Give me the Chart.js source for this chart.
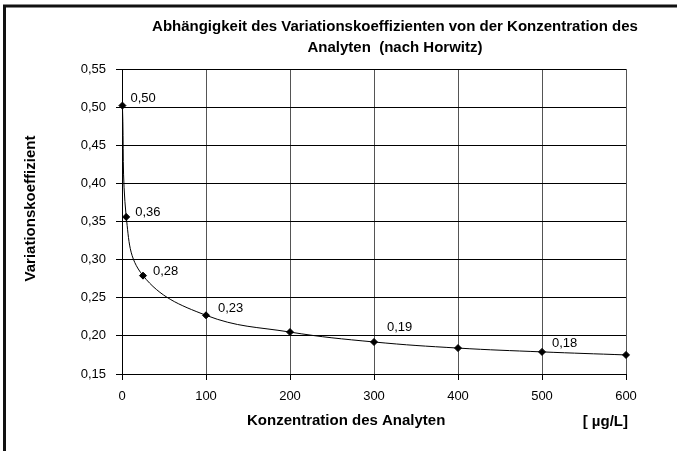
<!DOCTYPE html>
<html><head><meta charset="utf-8">
<script src="https://cdn.jsdelivr.net/npm/chart.js@4.4.1/dist/chart.umd.min.js"></script>
<style>html,body{margin:0;padding:0;background:#fff}#wrap{width:677px;height:451px;position:relative}</style>
</head><body><div id="wrap"><canvas id="c" width="677" height="451"></canvas></div>
<script>
const concentrations = [0.5, 5, 25, 100, 200, 300, 400, 500, 600];
const cvValues = [0.502, 0.356, 0.279, 0.227, 0.205, 0.192, 0.184, 0.179, 0.175];
const pointLabels = ['0,50', '0,36', '0,28', '0,23', '', '0,19', '', '0,18', ''];
const xTickValues = [0, 100, 200, 300, 400, 500, 600];
const yTickValues = [0.15, 0.20, 0.25, 0.30, 0.35, 0.40, 0.45, 0.50, 0.55];
const titleLines = ['Abhängigkeit des Variationskoeffizienten von der Konzentration des', 'Analyten  (nach Horwitz)'];
const xAxisTitle = 'Konzentration des Analyten';
const xAxisUnit = '[ µg/L]';
const yAxisTitle = 'Variationskoeffizient';

// label placement (style only): pixel offsets of each value label from its point
const labelOffsets = [[8, -7], [9, -5], [10, -4], [12, -7], [0, 0], [13, -15], [0, 0], [10, -8], [0, 0]];

const FONT = "'Liberation Sans', Arial, sans-serif";

const decor = {
  id: 'decor',
  beforeDraw(chart) {
    const ctx = chart.ctx;
    ctx.save();
    ctx.fillStyle = '#fff';
    ctx.fillRect(0, 0, chart.width, chart.height);
    ctx.strokeStyle = '#111';
    ctx.lineWidth = 3;
    ctx.strokeRect(4.5, 6, 720, 480);
    ctx.restore();
  },
  afterDraw(chart) {
    const ctx = chart.ctx;
    const area = chart.chartArea;
    ctx.save();
    ctx.fillStyle = '#000';
    ctx.textBaseline = 'middle';
    // title
    ctx.font = 'bold 15px ' + FONT;
    ctx.textAlign = 'center';
    ctx.fillText(titleLines[0], 395, 27);
    ctx.fillText(titleLines[1], 395, 48);
    // x axis title & unit
    ctx.textAlign = 'left';
    ctx.fillText(xAxisTitle, 247, 421);
    ctx.textAlign = 'right';
    ctx.fillText(xAxisUnit, 628, 422);
    // y axis title
    ctx.save();
    ctx.translate(31, (area.top + area.bottom) / 2 - 13);
    ctx.rotate(-Math.PI / 2);
    ctx.textAlign = 'center';
    ctx.fillText(yAxisTitle, 0, 0);
    ctx.restore();
    // point labels
    ctx.font = '13px ' + FONT;
    ctx.textAlign = 'left';
    const meta = chart.getDatasetMeta(0);
    meta.data.forEach((pt, i) => {
      const t = pointLabels[i];
      if (t) ctx.fillText(t, pt.x + labelOffsets[i][0], pt.y + labelOffsets[i][1]);
    });
    ctx.restore();
  }
};

new Chart(document.getElementById('c'), {
  type: 'line',
  data: {
    datasets: [{
      data: concentrations.map((x, i) => ({ x: x, y: cvValues[i] })),
      borderColor: '#000',
      borderWidth: 1,
      backgroundColor: '#000',
      pointBackgroundColor: '#000',
      pointBorderColor: '#000',
      pointStyle: 'rectRot',
      pointRadius: 3.5,
      tension: 0.4,
      fill: false,
      clip: false
    }]
  },
  options: {
    responsive: false,
    animation: false,
    devicePixelRatio: 1,
    layout: { padding: { left: 0, top: 69, right: 51, bottom: 0 } },
    plugins: { legend: { display: false }, title: { display: false }, tooltip: { enabled: false } },
    scales: {
      x: {
        type: 'linear',
        min: 0, max: 600,
        afterFit(s) { s.height = 77; },
        afterBuildTicks(s) { s.ticks = xTickValues.map(v => ({ value: v })); },
        grid: { color: '#555', tickColor: '#000', tickLength: 6, lineWidth: 1 },
        border: { color: '#000', width: 1 },
        ticks: { padding: 9, color: '#000', font: { family: FONT, size: 13 }, maxRotation: 0, callback: v => String(v) }
      },
      y: {
        type: 'linear',
        min: 0.15, max: 0.55,
        afterFit(s) { s.width = 122; },
        afterBuildTicks(s) { s.ticks = yTickValues.map(v => ({ value: v })); },
        grid: { color: '#000', tickColor: '#000', tickLength: 6, lineWidth: 1 },
        border: { color: '#000', width: 1 },
        ticks: { padding: 10, color: '#000', font: { family: FONT, size: 13 }, callback: v => v.toFixed(2).replace('.', ',') }
      }
    }
  },
  plugins: [decor]
});
</script>
</body></html>
